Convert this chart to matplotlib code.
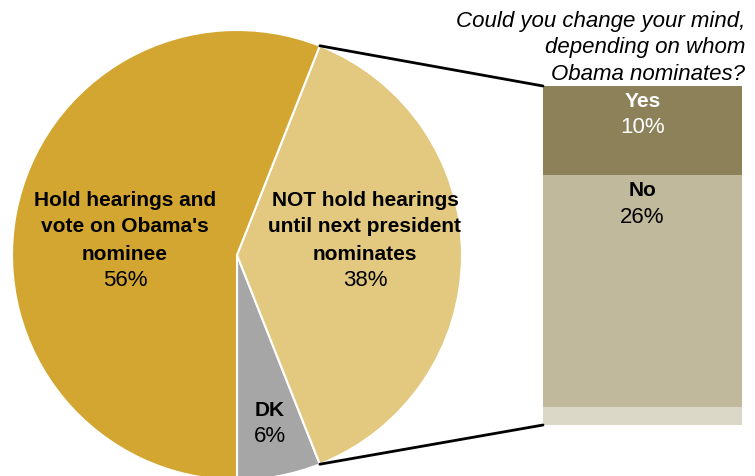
import matplotlib.pyplot as plt
import numpy as np
from matplotlib.patches import ConnectionPatch

# pie data
labels = ["DK", "NOT hold hearings\nuntil next president\nnominates", "Hold hearings and\nvote on Obama's\nnominee"]
shares = [6, 38, 56]
pie_colors = ["#A6A6A6", "#E3C97F", "#D2A630"]

# breakdown of the "NOT hold" slice
sub_labels = ["Yes", "No", ""]
sub_values = [10, 26, 2]
sub_colors = ["#8C8159", "#C1B99B", "#DCD8C8"]

question = "Could you change your mind,\ndepending on whom\nObama nominates?"

W, H = 755, 476
plt.rcParams['font.family'] = ['Liberation Sans', 'DejaVu Sans']

fig = plt.figure(figsize=(W / 100, H / 100), dpi=100)
ax = fig.add_axes([0, 0, 1, 1])

cx, cy, r = 237, H - 255, 225
start = 270
wedges, _ = ax.pie(shares, colors=pie_colors, startangle=start, counterclock=True,
                   center=(cx, cy), radius=r, frame=True,
                   wedgeprops=dict(edgecolor='white', linewidth=1.5))
ax.set_xlim(0, W)
ax.set_ylim(0, H)
ax.set_aspect('equal')
ax.axis('off')

# labels inside slices (top line centre, pixels from top)
lab_pos = [(270, 410), (365, 200), (125, 200)]
step = 27
for lab, val, (x, y) in zip(labels, shares, lab_pos):
    lines = lab.split("\n")
    for i, line in enumerate(lines):
        ax.text(x, H - y - i * step, line, ha='center', va='center', fontsize=15,
                fontweight='bold', color='black')
    ax.text(x, H - y - len(lines) * step, f"{val}%", ha='center', va='center',
            fontsize=16, color='black')

# stacked bar for the breakdown
bx = fig.add_axes([543 / W, (H - 425) / H, 199 / W, 339 / H])
bottom = 0
for lab, val, col in zip(sub_labels, sub_values, sub_colors):
    bx.bar(0, val, bottom=bottom, width=1, color=col)
    if lab:
        tc = 'white' if lab == "Yes" else 'black'
        bx.text(0, bottom + 1.7, lab, ha='center', va='center', fontsize=15,
                fontweight='bold', color=tc)
        bx.text(0, bottom + 4.7, f"{val}%", ha='center', va='center', fontsize=16,
                color=tc)
    bottom += val
bx.set_xlim(-0.5, 0.5)
bx.set_ylim(sum(sub_values), 0)
bx.axis('off')

# connector lines from the NOT-hold slice edges to the bar corners
t1 = np.deg2rad(start + 3.6 * shares[0])
t2 = np.deg2rad(start + 3.6 * (shares[0] + shares[1]))
for t, yb in [(t2, 0), (t1, sum(sub_values))]:
    p = (cx + r * np.cos(t), cy + r * np.sin(t))
    con = ConnectionPatch(xyA=p, coordsA=ax.transData, xyB=(-0.5, yb), coordsB=bx.transData,
                          color='black', linewidth=2)
    fig.add_artist(con)

for i, line in enumerate(question.split("\n")):
    fig.text(745 / W, 1 - (22 + 26 * i) / H, line, ha='right', va='center', fontsize=16,
             style='italic')

fig.savefig("out.png", dpi=100)
